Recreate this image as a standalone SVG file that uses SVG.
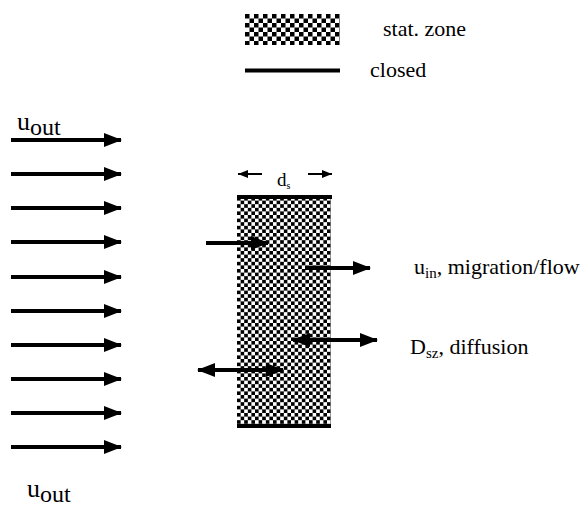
<svg xmlns="http://www.w3.org/2000/svg" width="585" height="515" viewBox="0 0 585 515">
  <defs>
    <!-- checkerboard fill for the stationary zone -->
    <pattern id="checkMain" x="237" y="197" width="7.2" height="7.2" patternUnits="userSpaceOnUse">
      <rect width="7.2" height="7.2" fill="#fff"/>
      <rect width="3.6" height="3.6" fill="#000"/>
      <rect x="3.6" y="3.6" width="3.6" height="3.6" fill="#000"/>
    </pattern>
    <pattern id="checkLegend" x="245" y="14" width="9" height="9" patternUnits="userSpaceOnUse">
      <rect width="9" height="9" fill="#fff"/>
      <rect width="4.5" height="4.5" fill="#000"/>
      <rect x="4.5" y="4.5" width="4.5" height="4.5" fill="#000"/>
    </pattern>
    <marker id="head" viewBox="0 0 18 14" refX="17" refY="7" markerWidth="18" markerHeight="14" orient="auto" markerUnits="userSpaceOnUse">
      <path d="M0,0 L18,7 L0,14 Z" fill="#000"/>
    </marker>
    <marker id="tail" viewBox="0 0 18 14" refX="1" refY="7" markerWidth="18" markerHeight="14" orient="auto" markerUnits="userSpaceOnUse">
      <path d="M18,0 L0,7 L18,14 Z" fill="#000"/>
    </marker>
    <marker id="smallHead" viewBox="0 0 10 8" refX="10" refY="4" markerWidth="10" markerHeight="8" orient="auto" markerUnits="userSpaceOnUse">
      <path d="M0,0 L10,4 L0,8 Z" fill="#000"/>
    </marker>
  </defs>
  <style>
    text { font-family: "Liberation Serif", "Times New Roman", serif; fill: #000; }
    .lbl { font-size: 22px; }
    .u { font-size: 26px; }
    .flow { stroke: #000; stroke-width: 4; fill: none; marker-end: url(#head); }
    .both { stroke: #000; stroke-width: 4; fill: none; marker-start: url(#tail); marker-end: url(#head); }
    .thin { stroke: #000; stroke-width: 2; fill: none; marker-end: url(#smallHead); }
    .wall { stroke: #000; stroke-width: 4; }
  </style>

  <!-- legend -->
  <g id="legend">
    <rect x="245" y="14" width="95" height="31" fill="url(#checkLegend)"/>
    <text class="lbl" x="383" y="36">stat. zone</text>
    <line class="wall" x1="245" y1="70.5" x2="340" y2="70.5"/>
    <text class="lbl" x="370" y="77">closed</text>
  </g>

  <!-- stationary zone with closed top and bottom -->
  <g id="zone">
    <rect x="237" y="197" width="94" height="228" fill="url(#checkMain)"/>
    <line class="wall" x1="237" y1="197" x2="332" y2="197"/>
    <line class="wall" x1="237" y1="426" x2="331" y2="426"/>
  </g>

  <!-- zone width -->
  <g id="width">
    <line class="thin" x1="262" y1="174" x2="238" y2="174"/>
    <line class="thin" x1="308" y1="174" x2="332" y2="174"/>
    <text x="277" y="186" style="font-size:19px">d<tspan dy="3" style="font-size:10px">s</tspan></text>
  </g>

  <!-- mobile phase velocity labels -->
  <g id="outer-flow">
    <text class="u" x="17" y="130">u<tspan dy="5" style="font-size:24px">out</tspan></text>
    <text class="u" x="27" y="497">u<tspan dy="5" style="font-size:24px">out</tspan></text>
  </g>

  <g id="connectors">
    <line class="flow" x1="11" y1="140" x2="121" y2="140"/>
    <line class="flow" x1="11" y1="174" x2="121" y2="174"/>
    <line class="flow" x1="11" y1="208" x2="121" y2="208"/>
    <line class="flow" x1="11" y1="242" x2="121" y2="242"/>
    <line class="flow" x1="11" y1="277" x2="121" y2="277"/>
    <line class="flow" x1="11" y1="311" x2="121" y2="311"/>
    <line class="flow" x1="11" y1="345" x2="121" y2="345"/>
    <line class="flow" x1="11" y1="379" x2="121" y2="379"/>
    <line class="flow" x1="11" y1="413" x2="121" y2="413"/>
    <line class="flow" x1="11" y1="447" x2="121" y2="447"/>

    <line class="flow" x1="206" y1="243" x2="268" y2="243"/>
    <line class="flow" x1="305" y1="268" x2="370" y2="268"/>
    <line class="both" x1="293" y1="340" x2="377" y2="340"/>
    <line class="both" x1="198" y1="370" x2="283" y2="370"/>
  </g>

  <g id="labels">
    <text class="lbl" x="414" y="274">u<tspan dy="4" style="font-size:15px">in</tspan><tspan dy="-4">, migration/flow</tspan></text>
    <text class="lbl" x="410" y="354">D<tspan dy="4" style="font-size:15px">sz</tspan><tspan dy="-4">, diffusion</tspan></text>
  </g>
</svg>
